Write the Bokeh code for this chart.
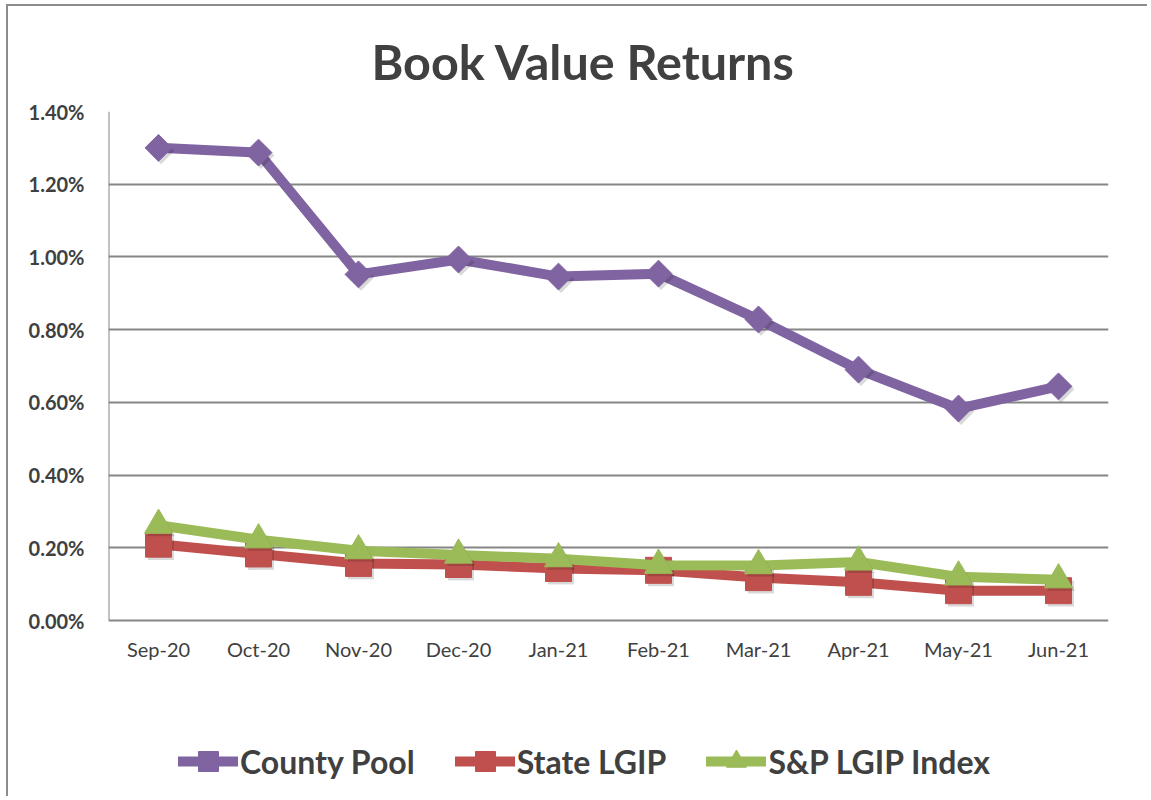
import math
from bokeh.plotting import figure
from bokeh.models import (ColumnDataSource, FactorRange, Legend, LegendItem,
                          PrintfTickFormatter, FixedTicker, Title, Range1d)
from bokeh.core.properties import value
from bokeh.transform import dodge
from bokeh.embed import file_html
from bokeh.resources import INLINE

months = ["Sep-20", "Oct-20", "Nov-20", "Dec-20", "Jan-21", "Feb-21",
          "Mar-21", "Apr-21", "May-21", "Jun-21"]
county_pool = [1.300, 1.287, 0.952, 0.993, 0.946, 0.954, 0.828, 0.690, 0.583, 0.644]
state_lgip = [0.210, 0.183, 0.157, 0.154, 0.143, 0.138, 0.118, 0.105, 0.082, 0.082]
sp_lgip_index = [0.262, 0.222, 0.192, 0.180, 0.170, 0.152, 0.151, 0.161, 0.120, 0.112]
y_ticks = [0.0, 0.2, 0.4, 0.6, 0.8, 1.0, 1.2, 1.4]

PURPLE = "#8064A2"
RED = "#C0504D"
GREEN = "#9BBB59"
TEXT = "#404040"
GRID = "#868686"
FONT = "Lato"

# layout (pixels)
W, H = 1141, 792
B_LEFT, B_RIGHT, B_TOP = 100, 41, 105
AXIS_PX = 509                      # pixel height of the 0 .. 1.4 % span
FRAME_H = H - B_TOP                # frame reaches the bottom; legend sits inside it
y_top = y_ticks[-1]
y_bottom = y_top - FRAME_H * y_top / AXIS_PX

src = ColumnDataSource(dict(x=months, county=county_pool, state=state_lgip, sp=sp_lgip_index,
                            county_s=[v - 0.008 for v in county_pool],
                            state_s=[v - 0.008 for v in state_lgip],
                            sp_s=[v - 0.008 for v in sp_lgip_index],
                            base=[0.0] * len(months)))

p = figure(width=W, height=H, x_range=FactorRange(*months, range_padding=0),
           y_range=Range1d(y_bottom, y_top), output_backend="svg", toolbar_location=None,
           x_axis_location=None,
           min_border_left=B_LEFT, min_border_right=B_RIGHT, min_border_top=B_TOP,
           min_border_bottom=0)
p.title = None
p.add_layout(Title(text="Book Value Returns", text_font=FONT, text_font_size="48.5px",
                   text_font_style="bold", text_color=TEXT, align="left", offset=263,
                   standoff=44), "above")
p.styles = {"border-left": "2px solid #8c8c8c", "border-top": "2px solid #8c8c8c",
            "margin-left": "6px", "margin-top": "4px"}

p.outline_line_color = None
p.xgrid.grid_line_color = None
p.ygrid.grid_line_color = GRID
p.ygrid.grid_line_width = 2
p.yaxis.ticker = FixedTicker(ticks=y_ticks)
p.yaxis.formatter = PrintfTickFormatter(format="%.2f%%")
ax = p.yaxis[0]
ax.axis_line_color = None
ax.major_tick_line_color = None
ax.minor_tick_line_color = None
ax.major_label_text_font = FONT
ax.major_label_text_color = TEXT
ax.major_label_text_font_size = "20px"
ax.major_label_text_font_style = "bold"
ax.major_label_standoff = 18

# vertical axis line from 0 to the top tick
p.segment(x0=[0], y0=[y_ticks[0]], x1=[0], y1=[y_ticks[-1]], line_color=GRID, line_width=2)

# category labels under the 0 line
p.text(x="x", y="base", text="x", source=src, text_font=value(FONT),
       text_font_size="20px", text_color=TEXT, text_align="center",
       text_baseline="middle", y_offset=28)

shx = dodge("x", 0.025, range=p.x_range)

l1 = p.line("x", "county", source=src, line_color=PURPLE, line_width=10,
            line_join="round", line_cap="round")
p.scatter(shx, "county_s", source=src, marker="square", angle=math.pi / 4, size=19,
          fill_color="black", fill_alpha=0.15, line_color=None)
m1 = p.scatter("x", "county", source=src, marker="square", angle=math.pi / 4, size=19,
               fill_color=PURPLE, line_color=PURPLE)

l2 = p.line("x", "state", source=src, line_color=RED, line_width=10,
            line_join="round", line_cap="round")
p.scatter(shx, "state_s", source=src, marker="square", size=26,
          fill_color="black", fill_alpha=0.15, line_color=None)
m2 = p.scatter("x", "state", source=src, marker="square", size=26,
               fill_color=RED, line_color=RED)

l3 = p.line("x", "sp", source=src, line_color=GREEN, line_width=10,
            line_join="round", line_cap="round")
p.scatter(shx, "sp_s", source=src, marker="triangle", size=28,
          fill_color="black", fill_alpha=0.15, line_color=None)
m3 = p.scatter("x", "sp", source=src, marker="triangle", size=28,
               fill_color=GREEN, line_color=GREEN)

legend = Legend(items=[LegendItem(label="County Pool", renderers=[l1, m1]),
                       LegendItem(label="State LGIP", renderers=[l2, m2]),
                       LegendItem(label="S&P LGIP Index", renderers=[l3, m3])],
                orientation="horizontal", location=(70, 12),
                label_text_font=FONT, label_text_font_size="32px",
                label_text_font_style="bold", label_text_color=TEXT,
                glyph_width=60, glyph_height=50, label_standoff=2, spacing=40,
                padding=0, margin=0, border_line_color=None, background_fill_alpha=0)
p.add_layout(legend, "center")

open("out.html", "w").write(file_html(p, INLINE))
